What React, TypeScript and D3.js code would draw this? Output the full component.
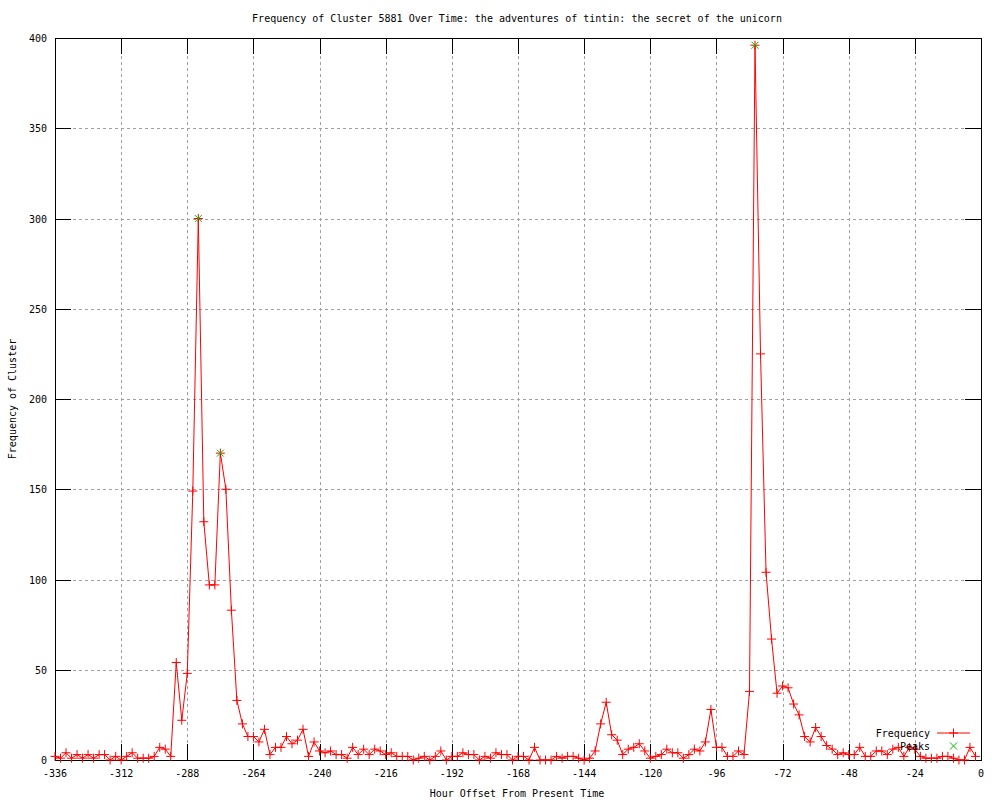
import React, { useEffect, useRef } from 'react'
import * as d3 from 'd3'

// hour offsets (2 h bins) and cluster frequency
const hours = [
  -336, -334, -332, -330, -328, -326, -324, -322, -320, -318, -316, -314, -312, -310, -308, -306,
  -304, -302, -300, -298, -296, -294, -292, -290, -288, -286, -284, -282, -280, -278, -276, -274,
  -272, -270, -268, -266, -264, -262, -260, -258, -256, -254, -252, -250, -248, -246, -244, -242,
  -240, -238, -236, -234, -232, -230, -228, -226, -224, -222, -220, -218, -216, -214, -212, -210,
  -208, -206, -204, -202, -200, -198, -196, -194, -192, -190, -188, -186, -184, -182, -180, -178,
  -176, -174, -172, -170, -168, -166, -164, -162, -160, -158, -156, -154, -152, -150, -148, -146,
  -144, -142, -140, -138, -136, -134, -132, -130, -128, -126, -124, -122, -120, -118, -116, -114,
  -112, -110, -108, -106, -104, -102, -100, -98, -96, -94, -92, -90, -88, -86, -84, -82,
  -80, -78, -76, -74, -72, -70, -68, -66, -64, -62, -60, -58, -56, -54, -52, -50,
  -48, -46, -44, -42, -40, -38, -36, -34, -32, -30, -28, -26, -24, -22, -20, -18,
  -16, -14, -12, -10, -8, -6, -4, -2,
]

const frequency = [
  2, 1, 4, 1, 3, 1, 3, 1, 3, 3, 0, 2, 0, 2, 4, 1,
  1, 1, 2, 7, 6, 2, 54, 22, 48, 149, 300, 132, 97, 97, 170, 150,
  83, 33, 20, 13, 13, 10, 17, 3, 7, 7, 13, 9, 11, 17, 2, 10,
  5, 4, 5, 3, 3, 1, 7, 3, 6, 3, 6, 5, 3, 4, 2, 2,
  2, 0, 1, 2, 0, 2, 5, 0, 2, 2, 4, 3, 3, 0, 2, 1,
  4, 3, 3, 0, 2, 2, 0, 7, 0, 0, 0, 2, 1, 2, 2, 1,
  0, 1, 5, 20, 32, 14, 11, 3, 6, 7, 9, 5, 1, 2, 3, 6,
  4, 4, 1, 3, 6, 5, 10, 28, 7, 7, 2, 2, 5, 3, 38, 396,
  225, 104, 67, 37, 41, 40, 31, 25, 13, 10, 18, 13, 8, 6, 3, 4,
  3, 3, 7, 2, 2, 5, 5, 3, 6, 7, 2, 7, 6, 2, 1, 1,
  1, 2, 2, 1, 0, 0, 7, 2,
]

const peakHours = [-284, -276, -82]
const peakValues = [300, 170, 396]

const xTicks = [-336, -312, -288, -264, -240, -216, -192, -168, -144, -120, -96, -72, -48, -24, 0]
const yTicks = [0, 50, 100, 150, 200, 250, 300, 350, 400]

const title = 'Frequency of Cluster 5881 Over Time: the adventures of tintin: the secret of the unicorn'

const App: React.FC = () => {
  const ref = useRef<SVGSVGElement>(null)

  useEffect(() => {
    if (!ref.current) return
    const svg = d3.select(ref.current)
    svg.selectAll('*').remove()

    const left = 55, right = 981, top = 38, bottom = 760
    const font = 'DejaVu Sans Mono, monospace'
    const tic = 16

    const x = d3.scaleLinear().domain([-336, 0]).range([left, right])
    const y = d3.scaleLinear().domain([0, 400]).range([bottom, top])

    svg.append('rect').attr('width', 1000).attr('height', 800).attr('fill', '#fff')

    // grid
    const grid = svg.append('g').attr('stroke', '#a0a0a0').attr('stroke-dasharray', '3,3').attr('shape-rendering', 'crispEdges')
    xTicks.slice(1, -1).forEach(t => {
      grid.append('line').attr('x1', Math.round(x(t)) + 0.5).attr('x2', Math.round(x(t)) + 0.5).attr('y1', top).attr('y2', bottom)
    })
    yTicks.slice(1, -1).forEach(t => {
      grid.append('line').attr('y1', Math.round(y(t)) + 0.5).attr('y2', Math.round(y(t)) + 0.5).attr('x1', left).attr('x2', right)
    })

    // tics (mirrored, inward)
    const tics = svg.append('g').attr('stroke', '#000').attr('shape-rendering', 'crispEdges')
    xTicks.forEach(t => {
      const px = Math.round(x(t)) + 0.5
      tics.append('line').attr('x1', px).attr('x2', px).attr('y1', bottom).attr('y2', bottom - tic)
      tics.append('line').attr('x1', px).attr('x2', px).attr('y1', top).attr('y2', top + tic)
    })
    yTicks.forEach(t => {
      const py = Math.round(y(t)) + 0.5
      tics.append('line').attr('y1', py).attr('y2', py).attr('x1', left).attr('x2', left + tic)
      tics.append('line').attr('y1', py).attr('y2', py).attr('x1', right).attr('x2', right - tic)
    })

    // border
    svg.append('rect')
      .attr('x', left + 0.5).attr('y', top + 0.5)
      .attr('width', right - left).attr('height', bottom - top)
      .attr('fill', 'none').attr('stroke', '#000').attr('shape-rendering', 'crispEdges')

    // tick labels
    svg.append('g').selectAll('text').data(xTicks).enter().append('text')
      .attr('x', d => x(d)).attr('y', 777)
      .attr('text-anchor', 'middle').attr('font-family', font).attr('font-size', 10)
      .text(d => String(d))
    svg.append('g').selectAll('text').data(yTicks).enter().append('text')
      .attr('x', 47).attr('y', d => y(d) + 4)
      .attr('text-anchor', 'end').attr('font-family', font).attr('font-size', 10)
      .text(d => String(d))

    // titles
    svg.append('text').attr('x', 517).attr('y', 22).attr('text-anchor', 'middle')
      .attr('font-family', font).attr('font-size', 10).text(title)
    svg.append('text').attr('x', 517).attr('y', 797).attr('text-anchor', 'middle')
      .attr('font-family', font).attr('font-size', 10).text('Hour Offset From Present Time')
    svg.append('text').attr('transform', 'translate(16,399) rotate(-90)').attr('text-anchor', 'middle')
      .attr('font-family', font).attr('font-size', 10).text('Frequency of Cluster')

    // series
    const pts: [number, number][] = hours.map((h, i) => [h, frequency[i]])
    const line = d3.line<[number, number]>().x(d => x(d[0])).y(d => y(d[1]))
    svg.append('path').datum(pts).attr('d', line).attr('fill', 'none').attr('stroke', '#ff0000').attr('stroke-width', 1)

    const plus = (g: any, cx: number, cy: number, color: string) => {
      g.append('path').attr('d', `M${cx - 4.5},${cy}H${cx + 4.5}M${cx},${cy - 4.5}V${cy + 4.5}`)
        .attr('stroke', color).attr('stroke-width', 1).attr('fill', 'none')
    }
    const cross = (g: any, cx: number, cy: number, color: string) => {
      g.append('path').attr('d', `M${cx - 3.5},${cy - 3.5}L${cx + 3.5},${cy + 3.5}M${cx - 3.5},${cy + 3.5}L${cx + 3.5},${cy - 3.5}`)
        .attr('stroke', color).attr('stroke-width', 1).attr('fill', 'none')
    }

    const marks = svg.append('g')
    pts.forEach(d => plus(marks, x(d[0]), y(d[1]), '#ff0000'))

    const peaks = svg.append('g')
    peakHours.forEach((h, i) => cross(peaks, x(h), y(peakValues[i]), '#00c000'))

    // legend
    const lg = svg.append('g')
    lg.append('text').attr('x', 930).attr('y', 737).attr('text-anchor', 'end')
      .attr('font-family', font).attr('font-size', 10).text('Frequency')
    lg.append('line').attr('x1', 937).attr('x2', 970).attr('y1', 733).attr('y2', 733).attr('stroke', '#ff0000')
    plus(lg, 953.5, 733, '#ff0000')
    lg.append('text').attr('x', 930).attr('y', 750).attr('text-anchor', 'end')
      .attr('font-family', font).attr('font-size', 10).text('Peaks')
    cross(lg, 953.5, 746, '#00c000')
  }, [])

  return <svg ref={ref} width={1000} height={800} style={{ position: 'absolute', left: 0, top: 0 }}></svg>
}

export default App
